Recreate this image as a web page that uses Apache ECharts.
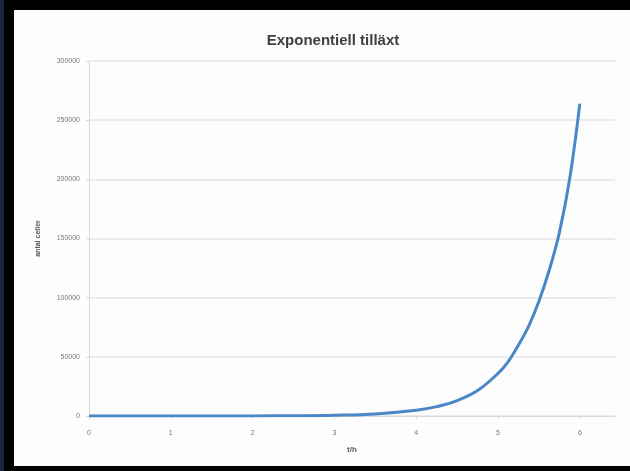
<!DOCTYPE html>
<html>
<head>
<meta charset="utf-8">
<script src="https://cdn.jsdelivr.net/npm/echarts@6/dist/echarts.min.js"></script>
<style>html,body{margin:0;padding:0;background:#000;}#c{width:630px;height:471px;}</style>
</head>
<body>
<div id="c"></div>
<script>
const titleText = "Exponentiell tilläxt";
const xName = "t/h";
const yName = "antal celler";
const tValues = [0, 0.5, 1, 1.5, 2, 2.5, 3, 3.5, 4, 4.25, 4.5, 4.75, 5, 5.125, 5.25, 5.375, 5.5, 5.625, 5.75, 5.875, 6];
const cellValues = [2, 4, 12, 32, 88, 240, 650, 1770, 4800, 7900, 13000, 21500, 36000, 46000, 60000, 76000, 97000, 123000, 155000, 200000, 264000];
const yTicks = [0, 50000, 100000, 150000, 200000, 250000, 300000];

const chart = echarts.init(document.getElementById('c'));
chart.setOption({
  backgroundColor: '#000',
  animation: false,
  graphic: [
    {type: 'rect', shape: {x: 14, y: 10, width: 616, height: 456}, style: {fill: '#fdfdfd'}, z: -10},
    {type: 'rect', shape: {x: 0, y: 0, width: 4, height: 471}, style: {fill: '#1c2440'}, z: -9}
  ],
  title: {
    text: titleText, left: 328, top: 28, textAlign: 'center',
    textStyle: {fontFamily: 'Liberation Sans', fontSize: 15, fontWeight: 'bold', color: '#404040'}
  },
  grid: {left: 89, right: 15, top: 61, bottom: 55},
  xAxis: {
    type: 'value', min: 0, max: 6.43, interval: 1,
    name: xName, nameLocation: 'middle', nameGap: 30,
    nameTextStyle: {fontFamily: 'Liberation Sans', fontSize: 8, color: '#555', fontWeight: 'bold'},
    axisLine: {show: true, lineStyle: {color: '#d8d8d8'}},
    axisTick: {show: true, length: 3, lineStyle: {color: '#d8d8d8'}},
    axisLabel: {fontFamily: 'Liberation Sans', fontSize: 7, color: '#777', margin: 14, showMaxLabel: false},
    splitLine: {show: false}
  },
  yAxis: {
    type: 'value', min: 0, max: 300000, interval: 50000,
    name: yName, nameLocation: 'middle', nameGap: 47, nameRotate: 90,
    nameTextStyle: {fontFamily: 'Liberation Sans', fontSize: 7, color: '#555', fontWeight: 'bold'},
    axisLine: {show: true, lineStyle: {color: '#d8d8d8'}},
    axisTick: {show: true, length: 3, lineStyle: {color: '#d8d8d8'}},
    axisLabel: {fontFamily: 'Liberation Sans', fontSize: 7, color: '#777', margin: 9,
      formatter: v => yTicks.includes(v) ? String(v) : ''},
    splitLine: {show: true, lineStyle: {color: '#e4e4e4', width: 1.5}}
  },
  series: [{
    type: 'line', smooth: 0.4, showSymbol: false,
    data: tValues.map((t, i) => [t, cellValues[i]]),
    lineStyle: {color: '#4a86c8', width: 3}
  }]
});
</script>
</body>
</html>
